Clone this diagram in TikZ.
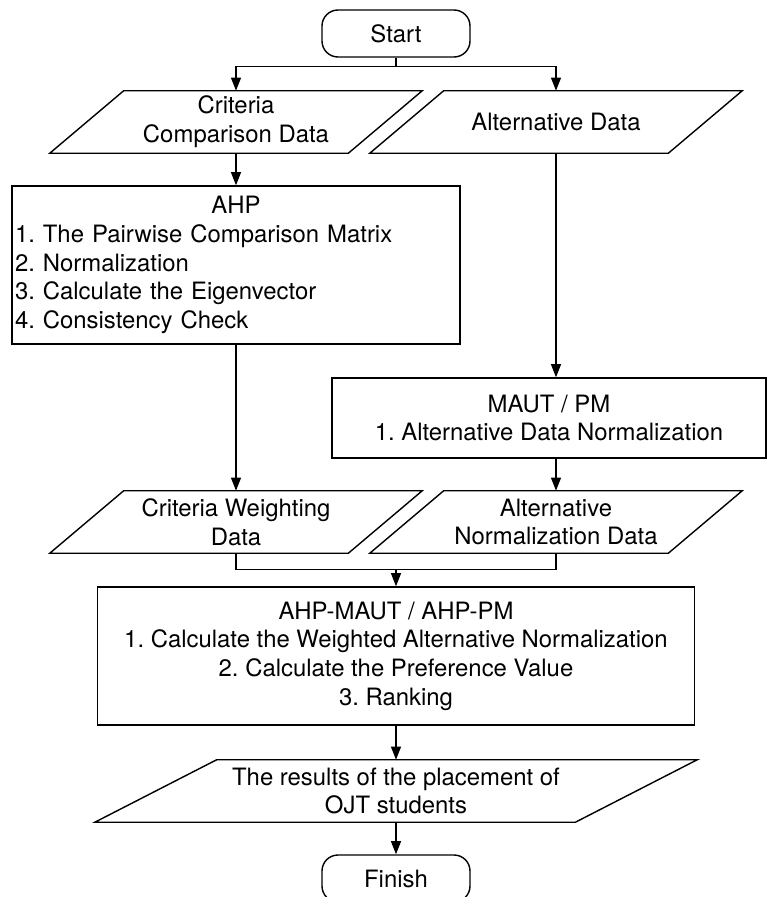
\documentclass[tikz,border=0pt]{standalone}
\usepackage{fontspec}
\setmainfont{TeX Gyre Heros}
\usetikzlibrary{arrows.meta,positioning,calc}

\begin{document}
\begin{tikzpicture}[
    box/.style={draw, line width=1pt, align=center},
    terminal/.style={draw, line width=1pt, rounded corners=0.4cm,
                     minimum width=3.7cm, minimum height=1.175cm},
    % parallelogram: #1 = body width, #2 = slant
    iodata/.style 2 args={minimum width=#1, minimum height=1.55cm, inner sep=0.05cm, align=center,
        append after command={\pgfextra{
            \draw[line width=1pt]
                ([xshift=-#2/2]\tikzlastnode.south west) -- ([xshift=#2/2]\tikzlastnode.north west)
             -- ([xshift=#2/2]\tikzlastnode.north east) -- ([xshift=-#2/2]\tikzlastnode.south east)
             -- cycle;}}},
    flow/.style={line width=1pt, -{Triangle[length=0.33cm, width=0.25cm]}},
    every node/.style={font=\fontsize{17pt}{20.4pt}\selectfont\frenchspacing}
]
    \useasboundingbox (0,0) rectangle (19.2,-22.425);

    % Terminals
    \node[terminal] (start) at (9.9, -0.8375) {Start};
    \node[terminal] (finish) at (9.9, -21.9625) {Finish};

    % Input data
    \node[iodata={7.45cm}{1.85cm}] (crit) at (5.9, -3.05) {Criteria\\Comparison Data};
    \node[iodata={7.45cm}{1.85cm}] (alt) at (13.9, -3.05) {Alternative Data};

    % AHP and MAUT / PM steps
    \node[box, minimum width=11.2cm, minimum height=3.95cm, text width=11.05cm,
          align=left, inner xsep=0.075cm] (ahp) at (5.9, -6.625)
        {\hfill AHP\hfill\null\\
         1. The Pairwise Comparison Matrix\\
         2. Normalization\\
         3. Calculate the Eigenvector\\
         4. Consistency Check};
    \node[box, minimum width=10.85cm, minimum height=2cm] (maut) at (13.725, -10.45)
        {MAUT / PM\\1. Alternative Data Normalization};

    % Intermediate data
    \node[iodata={7.45cm}{1.85cm}] (weight) at (5.9, -13.05) {Criteria Weighting\\Data};
    \node[iodata={7.45cm}{1.85cm}] (altnorm) at (13.9, -13.05) {Alternative\\Normalization Data};

    % Combined method
    \node[box, minimum width=14.925cm, minimum height=3.45cm] (ahpmaut) at (9.9, -16.4)
        {AHP-MAUT / AHP-PM\\
         1. Calculate the Weighted Alternative Normalization\\
         2. Calculate the Preference Value\\
         3. Ranking};

    % Output
    \node[iodata={12cm}{3.05cm}] (result) at (9.9, -19.775)
        {The results of the placement of\\OJT students};

    % Branch and merge points
    \coordinate (split) at ([yshift=-0.225cm]start.south);
    \coordinate (join) at ([yshift=-0.4cm]weight.south -| ahpmaut.north);

    % Arrows
    \draw[line width=1pt] (start) -- (split);
    \draw[flow] (split) -| (crit);
    \draw[flow] (split) -| (alt);
    \foreach \a/\b in {crit/ahp, ahp/weight, ahpmaut/result, result/finish} {
        \draw[flow] (\a) -- (\b);
    }
    \draw[flow] (alt.south) -- (alt.south |- maut.north);
    \draw[flow] (maut.south -| altnorm.north) -- (altnorm.north);
    \draw[line width=1pt] (weight.south) |- (join) -| (altnorm.south);
    \draw[flow] (join) -- (ahpmaut);
\end{tikzpicture}
\end{document}
